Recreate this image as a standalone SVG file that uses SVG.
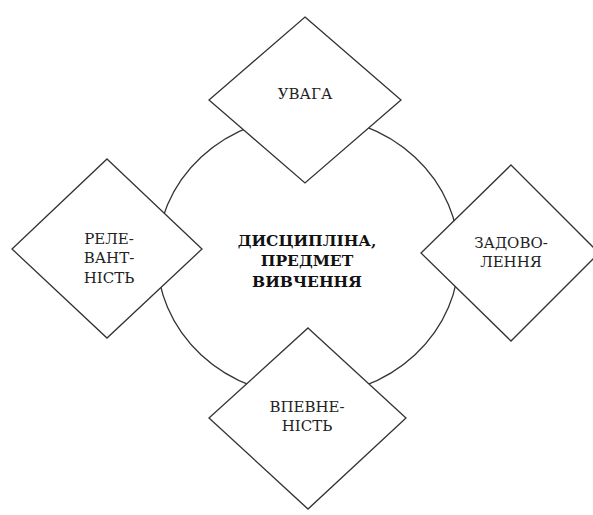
<svg xmlns="http://www.w3.org/2000/svg" width="593" height="515" viewBox="0 0 593 515">
<style>
.sh{fill:#fff;stroke:#333;stroke-width:1.3}
text{font-family:'DejaVu Serif','Liberation Serif',serif;font-size:15px;fill:#222;text-anchor:middle}
.b{font-weight:bold;font-size:15.5px;fill:#111}
</style>
<rect width="593" height="515" fill="#fff"/>
<g id="center">
<ellipse class="sh" cx="308" cy="256" rx="151" ry="140"/>
<text class="b" x="307" y="246">ДИСЦИПЛІНА,</text>
<text class="b" x="307" y="266">ПРЕДМЕТ</text>
<text class="b" x="307" y="287">ВИВЧЕННЯ</text>
</g>
<g id="uvaha">
<polygon class="sh" points="305,17 401,100 305,183 209,100"/>
<text x="305" y="99">УВАГА</text>
</g>
<g id="relevantnist">
<polygon class="sh" points="107,159 202,249 107,338 12,249"/>
<text x="109" y="244">РЕЛЕ-</text>
<text x="109" y="263">ВАНТ-</text>
<text x="109" y="283">НІСТЬ</text>
</g>
<g id="zadovolennia">
<polygon class="sh" points="511,165 599,253 511,341 421,253"/>
<text x="511" y="248">ЗАДОВО-</text>
<text x="511" y="267">ЛЕННЯ</text>
</g>
<g id="vpevnenist">
<polygon class="sh" points="308,328 406,418 308,509 209,418"/>
<text x="307" y="412">ВПЕВНЕ-</text>
<text x="307" y="431">НІСТЬ</text>
</g>
<g id="connectors"></g>
</svg>
